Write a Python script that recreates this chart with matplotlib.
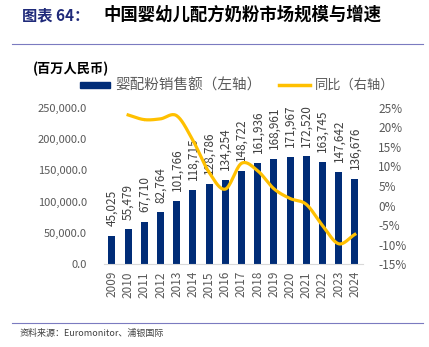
import numpy as np
import matplotlib.pyplot as plt
from matplotlib.patches import Rectangle
from matplotlib.lines import Line2D

plt.rcParams['font.family'] = ['Noto Sans CJK SC', 'DejaVu Sans']

# 数据
years = [str(y) for y in range(2009, 2025)]
sales = [45025, 55479, 67710, 82764, 101766, 118715, 128786, 134254,
         148722, 161936, 168961, 171967, 172520, 163745, 147642, 136676]
yoy_years = years[1:]
yoy = [23.2, 22.0, 22.2, 23.0, 16.7, 8.5, 4.2, 10.8,
       8.9, 4.3, 1.8, 0.3, -5.1, -9.8, -7.4]

navy = '#002C77'
gold = '#FFC000'
grey = '#595959'


def smooth(x, y, n=20):
    # Catmull-Rom 曲线, 类似 Excel 平滑线
    x = np.asarray(x, float)
    y = np.asarray(y, float)
    px = np.concatenate([[2 * x[0] - x[1]], x, [2 * x[-1] - x[-2]]])
    py = np.concatenate([[2 * y[0] - y[1]], y, [2 * y[-1] - y[-2]]])
    xs, ys = [], []
    t = np.linspace(0, 1, n)
    for i in range(1, len(px) - 2):
        for p, out in ((px, xs), (py, ys)):
            p0, p1, p2, p3 = p[i - 1], p[i], p[i + 1], p[i + 2]
            out.extend(0.5 * ((2 * p1) + (-p0 + p2) * t
                              + (2 * p0 - 5 * p1 + 4 * p2 - p3) * t ** 2
                              + (-p0 + 3 * p1 - 3 * p2 + p3) * t ** 3))
    return np.array(xs), np.array(ys)


fig = plt.figure(figsize=(4.29, 3.47), dpi=100)
ax = fig.add_axes([0.242, 0.239, 0.604, 0.450])

x = np.arange(len(years))
ax.bar(x, sales, width=0.43, color=navy, zorder=2)
for xi, v in zip(x, sales):
    ax.annotate(f'{v:,}', (xi, v), xytext=(0, 7), textcoords='offset points',
                rotation=90, ha='center', va='bottom', fontsize=8.5,
                color='#404040', zorder=3)

ax.set_xlim(-0.5, len(years) - 0.5)
ax.set_ylim(0, 250000)
ax.set_yticks(np.arange(0, 250001, 50000))
ax.set_yticklabels([f'{v:,.1f}' for v in np.arange(0, 250001, 50000)])
ax.set_xticks(x)
ax.set_xticklabels(years, rotation=90)
for s in ['top', 'left', 'right']:
    ax.spines[s].set_visible(False)
ax.spines['bottom'].set_color('#D9D9D9')
ax.tick_params(axis='both', length=0, labelsize=8.5, colors=grey)
ax.tick_params(axis='y', labelsize=8, pad=12)
ax.tick_params(axis='x', pad=5)

ax2 = ax.twinx()
xs_, ys_ = smooth(x[1:], yoy)
ax2.plot(xs_, ys_, color=gold, lw=2.3, zorder=4)
ax2.set_ylim(-15, 25)
ax2.set_yticks(np.arange(-15, 26, 5))
ax2.set_yticklabels([f'{v}%' for v in range(-15, 26, 5)])
for s in ax2.spines.values():
    s.set_visible(False)
ax2.tick_params(axis='y', length=0, labelsize=8.5, colors=grey, pad=11)

# 标题
fig.text(22 / 429, 1 - 15 / 347, '图表 64：', fontsize=11, fontweight='bold',
         color='#1F2A7A', va='center')
fig.text(103 / 429, 1 - 15 / 347, '中国婴幼儿配方奶粉市场规模与增速', fontsize=12.5,
         fontweight='bold', color='black', va='center')
fig.add_artist(Line2D([12 / 429, 423 / 429], [1 - 44 / 347] * 2,
                      color='#7B7BC0', lw=0.8))
fig.add_artist(Line2D([12 / 429, 423 / 429], [1 - 323 / 347] * 2,
                      color='#7B7BC0', lw=0.8))
fig.text(20 / 429, 1 - 333 / 347, '资料来源：Euromonitor、浦银国际', fontsize=6.5,
         color='#404040', va='center')

fig.text(33 / 429, 1 - 69 / 347, '(百万人民币)', fontsize=9.5, fontweight='bold',
         color='black', va='center')

# 图例
fig.add_artist(Rectangle((80 / 429, 1 - 88 / 347), 30 / 429, 6 / 347,
                         color=navy, transform=fig.transFigure))
fig.text(115 / 429, 1 - 85 / 347, '婴配粉销售额（左轴）', fontsize=10.5,
         color=grey, va='center')
fig.add_artist(Line2D([279 / 429, 310 / 429], [1 - 85 / 347] * 2,
                      color=gold, lw=2.5))
fig.text(315 / 429, 1 - 85 / 347, '同比（右轴）', fontsize=9.5,
         color=grey, va='center')

fig.savefig('out.png', dpi=100)
